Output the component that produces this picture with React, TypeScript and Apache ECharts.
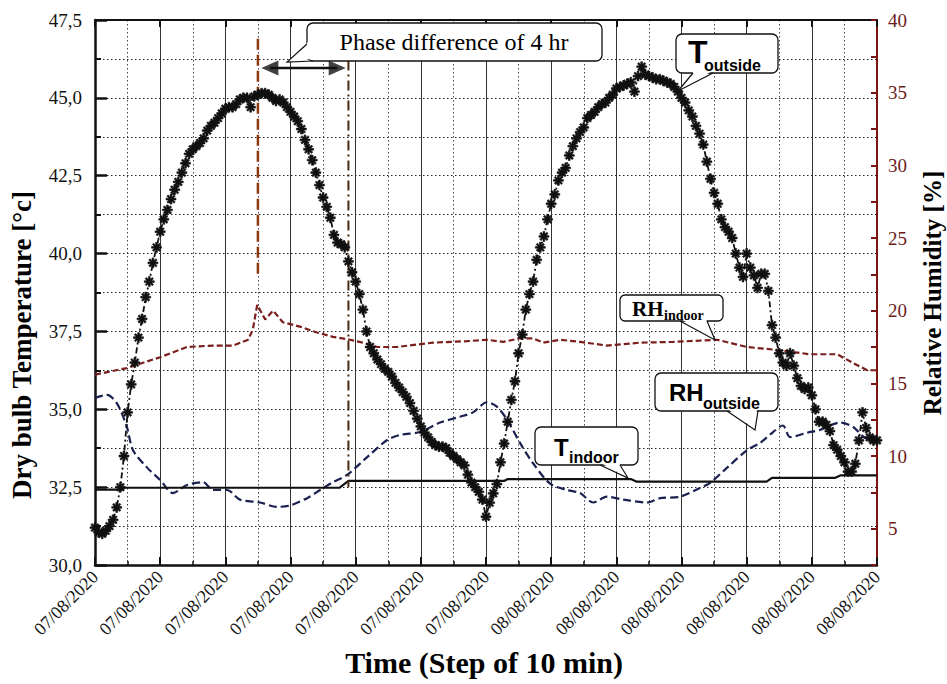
import React, { useEffect, useRef } from "react";
import * as echarts from "echarts";

// x = time step index (10 min each); major tick every 18 steps (3 h)
const xLabels = [
  "07/08/2020", "07/08/2020", "07/08/2020", "07/08/2020", "07/08/2020", "07/08/2020", "07/08/2020",
  "08/08/2020", "08/08/2020", "08/08/2020", "08/08/2020", "08/08/2020", "08/08/2020",
];

const tOutside = [
  31.2, 31.05, 31.0, 31.1, 31.25, 31.45, 31.85, 32.5, 33.5, 34.9,
  35.8, 36.5, 37.3, 37.9, 38.6, 39.1, 39.7, 40.2, 40.7, 41.1,
  41.4, 41.75, 42.05, 42.3, 42.6, 42.9, 43.2, 43.35, 43.45, 43.55,
  43.7, 43.95, 44.1, 44.2, 44.35, 44.5, 44.65, 44.7, 44.7, 44.8,
  44.95, 45.0, 45.0, 44.7, 45.05, 45.1, 45.15, 45.15, 45.1, 45.0,
  44.9, 44.95, 44.85, 44.7, 44.55, 44.4, 44.25, 44.0, 43.65, 43.35,
  43.0, 42.6, 42.2, 41.8, 41.5, 41.15, 40.6, 40.35, 40.3, 40.2,
  39.75, 39.4, 39.1, 38.7, 38.2, 37.5, 37.0, 36.8, 36.6, 36.45,
  36.3, 36.2, 36.05, 35.85, 35.7, 35.55, 35.4, 35.2, 34.95, 34.7,
  34.45, 34.25, 34.1, 33.95, 33.85, 33.8, 33.8, 33.75, 33.6, 33.5,
  33.4, 33.3, 33.2, 32.9, 32.65, 32.5, 32.35, 32.1, 31.55, 32.0,
  32.3, 32.6, 33.3, 33.9, 34.6, 35.3, 35.9, 36.8, 37.4, 38.2,
  38.7, 39.1, 39.8, 40.2, 40.55, 41.1, 41.6, 41.9, 42.35, 42.6,
  42.75, 43.15, 43.45, 43.7, 43.9, 44.05, 44.35, 44.45, 44.55, 44.7,
  44.8, 44.85, 45.0, 45.1, 45.3, 45.35, 45.4, 45.45, 45.5, 45.2,
  45.7, 46.0, 45.75, 45.7, 45.65, 45.6, 45.6, 45.55, 45.5, 45.45,
  45.35, 45.2, 45.0, 44.85, 44.6, 44.4, 44.1, 43.85, 43.5, 42.95,
  42.4, 41.95, 41.6, 41.1, 40.85, 40.7, 40.5, 40.0, 39.55, 39.25,
  40.0, 39.55, 39.3, 38.9, 39.35, 39.35, 38.8, 37.7, 37.3, 36.8,
  36.5, 36.4, 36.8, 36.4, 36.0, 35.75, 35.65, 35.7, 35.45, 35.0,
  34.6, 34.6, 34.5, 34.3, 33.85, 33.7, 33.5, 33.3, 33.0, 33.0,
  33.25, 34.0, 34.9, 34.4, 34.1, 34.0, 34.0,
];

const tIndoor = [
  [0, 32.42], [7.5, 32.42], [8, 32.48], [67.5, 32.48], [70, 32.7], [113, 32.7],
  [114, 32.76], [148, 32.76], [149.5, 32.68], [185.5, 32.68], [187, 32.8],
  [204.5, 32.8], [206, 32.88], [216, 32.88],
];

const rhIndoor = [
  [0, 15.6], [8.8, 16.05], [18, 16.8], [25.4, 17.5], [32.6, 17.6], [38.1, 17.6],
  [42.3, 18.0], [43.6, 18.7], [44.8, 20.4], [47, 19.4], [49.2, 20.0], [51.9, 19.2],
  [56.6, 18.9], [61.3, 18.5], [65.7, 18.2], [70.4, 18.0], [74, 17.8], [77.9, 17.5],
  [83.4, 17.5], [93.4, 17.8], [102.8, 17.9], [108.3, 18.0], [112.7, 17.85],
  [117.4, 18.1], [121, 18.1], [123.8, 17.8], [128.5, 18.0], [134, 17.85],
  [141.4, 17.6], [150.6, 17.8], [159.7, 17.85], [171.8, 18.0], [180.1, 17.5],
  [188.4, 17.3], [197.5, 17.0], [205, 17.0], [209.4, 16.4], [213.3, 15.9], [216, 15.9],
];

const rhOutside = [
  [0, 14.0], [3.3, 14.2], [6.1, 13.6], [8.8, 12.0], [10.5, 10.4], [14.4, 9.2],
  [18, 8.35], [21.5, 7.45], [25.4, 8.0], [29.8, 8.2], [32.6, 7.66], [36.5, 7.66],
  [40, 7.0], [45.6, 6.8], [50.3, 6.5], [53.9, 6.6], [58.6, 7.1], [62.2, 7.66],
  [65.7, 8.2], [69.6, 8.7], [75.1, 9.9], [80.7, 11.1], [84.3, 11.45], [89.8, 11.65],
  [95.3, 12.3], [100.8, 12.7], [104.4, 13.0], [108.3, 13.7], [111, 13.4],
  [113.8, 12.5], [117.4, 10.9], [121, 9.5], [125.7, 8.1], [130.4, 7.66], [134, 7.45],
  [137.6, 6.8], [141.4, 7.2], [145.9, 7.0], [152.5, 6.8], [156.1, 7.1], [161.6, 7.2],
  [167.1, 7.8], [169.9, 8.15], [174.6, 9.2], [180.1, 10.4], [183.7, 10.9],
  [187.3, 11.65], [190, 12.1], [192, 11.3], [196.7, 11.6], [200.3, 11.8],
  [205.8, 12.3], [209.4, 12.0], [213.3, 11.2], [216, 11.4],
];

// annotation anchors (data coordinates)
const peakLine = [[45, 46.9], [45, 39.3]];
const laggedLine = [[70, 46.2], [70, 32.5]];
const phaseArrow = [[48.3, 45.96], [66.9, 45.96]];

const SERIF = "'Liberation Serif', 'Times New Roman', serif";
const SANS = "'Liberation Sans', Arial, sans-serif";

const STAR =
  "path://M0 4.1L10 4.1L10 5.9L0 5.9Z M4.1 0L5.9 0L5.9 10L4.1 10Z " +
  "M2.1 0.83L9.17 7.9L7.9 9.17L0.83 2.1Z M7.9 0.83L9.17 2.1L2.1 9.17L0.83 7.9Z";

function callout(
  box: [number, number, number, number],
  tail: [number, number][],
  r: number
): any[] {
  const [x, y, w, h] = box;
  const cover = tail.slice();
  return [
    { type: "rect", z: 100, shape: { x, y, width: w, height: h, r }, style: { fill: "#fff", stroke: "#111", lineWidth: 1.3 } },
    {
      type: "polygon", z: 101,
      shape: { points: [[cover[0][0] + 1, cover[0][1] - 2], cover[1], [cover[2][0] - 1, cover[2][1] - 2]] },
      style: { fill: "#fff" },
    },
    { type: "polyline", z: 102, shape: { points: tail }, style: { stroke: "#111", lineWidth: 1.2, fill: null } },
  ];
}

function txt(text: string, x: number, y: number, size: number, family: string, weight: string, extra: any = {}): any {
  return {
    type: "text", z: 103, x, y, ...extra,
    style: { text, fontSize: size, fontFamily: family, fontWeight: weight, fill: "#000", align: extra.align || "left", verticalAlign: "middle" },
  };
}

export default function App() {
  const ref = useRef<HTMLDivElement>(null);
  useEffect(() => {
    if (!ref.current) return;
    const chart = echarts.init(ref.current, null, { renderer: "svg" });
    const graphic: any[] = [
      ...callout([307, 23, 295, 38], [[307, 44], [287, 62], [313, 61]], 6),
      txt("Phase difference of 4 hr", 454, 42, 24, SERIF, "normal", { align: "center" }),
      ...callout([676, 34, 102, 39], [[693, 73], [678, 91], [713, 73]], 6),
      txt("T", 688, 52, 32, SANS, "bold"),
      txt("outside", 704, 65, 16, SANS, "bold"),
      ...callout([620, 295, 103, 26], [[680, 321], [715, 340], [707, 321]], 5),
      txt("RH", 632, 309, 21, SERIF, "bold"),
      txt("indoor", 664, 315, 14, SERIF, "bold"),
      ...callout([655, 373, 123, 38], [[727, 411], [755, 430], [758, 411]], 6),
      txt("RH", 669, 392, 24, SANS, "bold"),
      txt("outside", 703, 403, 16, SANS, "bold"),
      ...callout([535, 427, 103, 38], [[600, 465], [628, 478], [620, 465]], 6),
      txt("T", 554, 447, 24, SANS, "bold"),
      txt("indoor", 569, 457, 16, SANS, "bold"),
      txt("Dry bulb Temperature [°c]", 22, 345, 27, SERIF, "bold", { align: "center", rotation: Math.PI / 2 }),
      txt("Relative Humidity [%]", 932, 293, 25, SERIF, "bold", { align: "center", rotation: Math.PI / 2 }),
      txt("Time (Step of 10 min)", 484, 662, 30, SERIF, "bold", { align: "center" }),
    ];

    const option: any = {
      animation: false,
      backgroundColor: "#fff",
      grid: { left: 95, right: 70, top: 20, bottom: 119, containLabel: false },
      xAxis: [
        {
          type: "value", min: 0, max: 216, interval: 18, position: "bottom",
          axisLine: { show: true, onZero: false, lineStyle: { color: "#111", width: 2.5 } },
          axisTick: { show: true, inside: true, length: 8, lineStyle: { color: "#111", width: 2 } },
          minorTick: { show: true, splitNumber: 2, length: 4, lineStyle: { color: "#111", width: 1.5 } },
          splitLine: { show: true, lineStyle: { color: "#333", width: 1, type: "solid" } },
          minorSplitLine: { show: true, lineStyle: { color: "#444", width: 1, type: [1.5, 2.5] } },
          axisLabel: {
            rotate: 45, margin: 9, fontSize: 18, fontFamily: SERIF, color: "#111",
            showMinLabel: true, showMaxLabel: true,
            formatter: (v: number) => xLabels[Math.round(v / 18)] || "",
          },
        },
        {
          type: "value", min: 0, max: 216, interval: 18, position: "top",
          axisLine: { show: true, onZero: false, lineStyle: { color: "#111", width: 2 } },
          axisTick: { show: true, inside: true, length: 7, lineStyle: { color: "#111", width: 2 } },
          axisLabel: { show: false }, splitLine: { show: false },
        },
      ],
      yAxis: [
        {
          type: "value", min: 30, max: 47.5, interval: 2.5, position: "left",
          axisLine: { show: true, onZero: false, lineStyle: { color: "#111", width: 2.5 } },
          axisTick: { show: true, inside: true, length: 12, lineStyle: { color: "#111", width: 2.5 } },
          minorTick: { show: true, splitNumber: 2, length: 6, lineStyle: { color: "#111", width: 2 } },
          splitLine: { show: true, lineStyle: { color: "#222", width: 1, type: [1.5, 2.5] } },
          minorSplitLine: { show: true, lineStyle: { color: "#222", width: 1, type: [1.5, 2.5] } },
          axisLabel: {
            margin: 13, fontSize: 19, fontFamily: SERIF, color: "#111",
            formatter: (v: number) => v.toFixed(1).replace(".", ","),
          },
        },
        {
          type: "value", min: 2.5, max: 40, interval: 2.5, position: "right",
          axisLine: { show: true, onZero: false, lineStyle: { color: "#7a1414", width: 2 } },
          axisTick: { show: true, inside: true, length: 6, lineStyle: { color: "#7a1414", width: 2 } },
          splitLine: { show: false },
          axisLabel: {
            margin: 11, fontSize: 19, fontFamily: SERIF, color: "#6b1c1c",
            formatter: (v: number) => (Math.abs(v % 5) < 1e-6 ? String(v) : ""),
          },
        },
      ],
      series: [
        {
          name: "RH indoor", type: "line", yAxisIndex: 1, xAxisIndex: 0, data: rhIndoor,
          symbol: "none", smooth: false,
          lineStyle: { color: "#7a1e1e", width: 2.2, type: [6, 3] },
        },
        {
          name: "RH outside", type: "line", yAxisIndex: 1, xAxisIndex: 0, data: rhOutside,
          symbol: "none", smooth: 0.3,
          lineStyle: { color: "#1b2150", width: 2.2, type: [8, 4] },
        },
        {
          name: "T indoor", type: "line", yAxisIndex: 0, xAxisIndex: 0, data: tIndoor,
          symbol: "none", lineStyle: { color: "#111", width: 2.2 },
        },
        {
          name: "T outside", type: "line", yAxisIndex: 0, xAxisIndex: 0,
          data: tOutside.map((v, i) => [i, v]),
          symbol: STAR, symbolSize: 10,
          itemStyle: { color: "#111", borderColor: "#111", borderWidth: 0.6 },
          lineStyle: { color: "#111", width: 1.8, type: [6, 3, 2, 3] },
        },
        {
          name: "peak", type: "line", data: peakLine, symbol: "none",
          lineStyle: { color: "#8a3a10", width: 2.5, type: [11, 5] },
        },
        {
          name: "lag", type: "line", data: laggedLine, symbol: "none",
          lineStyle: { color: "#4a2a10", width: 2, type: [10, 4, 2, 4] },
        },
        {
          name: "arrow", type: "line", data: phaseArrow, symbol: "none",
          lineStyle: { color: "#111", width: 2.5 },
        },
        {
          name: "arrowheads", type: "scatter",
          data: [
            { value: phaseArrow[0], symbolRotate: 90 },
            { value: phaseArrow[1], symbolRotate: -90 },
          ],
          symbol: "triangle", symbolSize: [15, 17],
          itemStyle: { color: "#111" },
        },
      ],
      graphic,
    };
    chart.setOption(option);
    return () => chart.dispose();
  }, []);
  return <div ref={ref} style={{ position: "fixed", left: 0, top: 0, width: 947, height: 684 }} />;
}
